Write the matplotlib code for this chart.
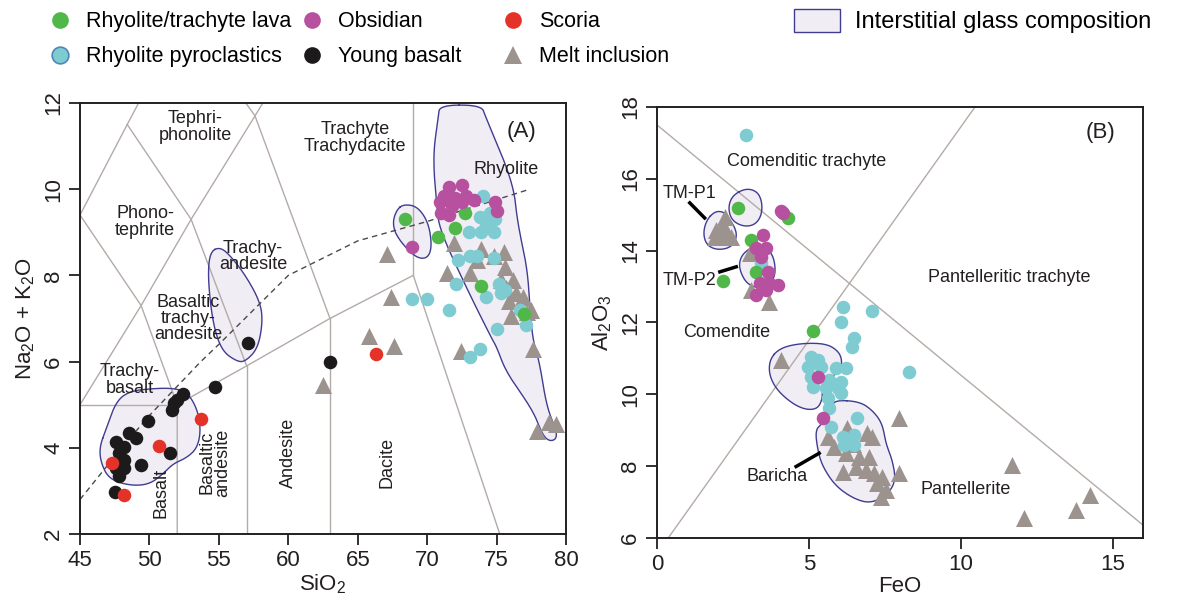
import numpy as np
import matplotlib
matplotlib.use('Agg')
import matplotlib.pyplot as plt
from matplotlib.lines import Line2D
from matplotlib.patches import Patch

plt.rcParams['font.family'] = ['Liberation Sans', 'DejaVu Sans']
plt.rcParams['mathtext.fontset'] = 'custom'
plt.rcParams['mathtext.rm'] = 'Liberation Sans'
plt.rcParams['mathtext.it'] = 'Liberation Sans:italic'

GREEN = '#4fb848'
CYAN = '#7ecbd1'
MAGENTA = '#b6509f'
BLACK = '#1c1a1a'
RED = '#e53228'
GREY = '#9c938e'
LINE = '#b3aba7'
BLOB_EDGE = '#3f3c91'
BLOB_FACE = '#f1edf5'
TXT = '#231f20'

# ---------------- panel A : TAS (SiO2 vs Na2O+K2O) ----------------
a_green_x = [68.4, 70.8, 72.0, 72.7, 73.9, 77.0]
a_green_y = [9.3, 8.9, 9.1, 9.45, 7.75, 7.1]

a_cyan_x = [74.0, 73.8, 74.5, 74.2, 74.9, 74.8, 73.9, 73.0, 73.1, 72.2, 73.6, 74.8, 72.1,
            75.2, 75.3, 75.6, 74.2, 68.9, 70.0, 71.6, 76.7, 75.0, 73.8, 73.1, 77.1]
a_cyan_y = [9.85, 9.35, 9.45, 9.2, 9.3, 9.0, 9.0, 9.0, 8.45, 8.35, 8.45, 8.4, 7.8,
            7.8, 7.6, 7.65, 7.5, 7.45, 7.45, 7.2, 7.2, 6.75, 6.3, 6.1, 6.85]

a_obs_x = [71.6, 72.5, 71.2, 72.0, 72.8, 73.4, 70.9, 71.8, 72.5, 71.0, 71.6, 74.9, 75.0, 68.9]
a_obs_y = [10.05, 10.1, 9.85, 9.8, 9.85, 9.75, 9.7, 9.6, 9.7, 9.45, 9.4, 9.7, 9.5, 8.65]

a_basalt_x = [52.4, 52.0, 51.6, 51.8, 49.9, 48.5, 49.0, 47.6, 48.2, 47.8, 51.5, 48.2,
              49.4, 47.6, 48.2, 47.8, 47.5, 54.7, 57.1, 63.0]
a_basalt_y = [5.25, 5.1, 4.88, 5.04, 4.62, 4.34, 4.23, 4.13, 4.02, 3.88, 3.88, 3.72,
              3.6, 3.53, 3.53, 3.35, 2.97, 5.41, 6.43, 6.0]

a_scoria_x = [53.7, 50.7, 47.3, 48.2, 66.3]
a_scoria_y = [4.67, 4.04, 3.65, 2.9, 6.18]

a_melt_x = [62.5, 65.8, 67.6, 67.1, 67.4, 71.4, 71.9, 72.4, 73.1, 73.6, 73.9, 74.8, 75.5,
            75.3, 75.7, 75.9, 76.2, 76.4, 76.7, 76.9, 77.2, 77.5, 77.6, 75.6, 76.0,
            77.9, 78.8, 79.3]
a_melt_y = [5.45, 6.6, 6.35, 8.5, 7.5, 8.05, 8.75, 6.25, 8.05, 8.35, 8.6, 8.45, 8.55,
            7.9, 7.7, 7.4, 7.9, 7.6, 7.3, 7.5, 7.15, 7.2, 6.3, 8.2, 7.05,
            4.4, 4.6, 4.55]

# interstitial glass fields (outline vertices)
a_glass = [
    [(70.9, 11.95), (73.9, 11.95), (74.2, 11.68), (76.2, 10.15), (76.5, 9.22), (77.2, 8.19),
     (77.4, 7.27), (77.6, 6.5), (78.1, 5.97), (78.6, 4.95), (79.3, 4.41), (79.3, 4.2),
     (78.8, 4.15), (78.3, 4.3), (77.6, 4.88), (75.7, 5.74), (75.0, 6.34), (74.7, 6.5),
     (72.9, 7.66), (70.9, 9.05), (70.7, 9.59), (70.4, 10.75), (70.8, 11.67)],
    [(67.8, 9.52), (68.3, 9.65), (69.3, 9.6), (70.1, 9.22), (70.35, 8.66), (70.0, 8.38),
     (69.1, 8.42), (67.8, 8.89), (67.5, 9.22)],
    [(54.36, 8.55), (55.1, 8.66), (55.9, 8.43), (57.0, 7.96), (58.0, 7.36), (58.15, 6.9),
     (57.8, 6.3), (56.9, 6.0), (56.3, 6.0), (55.2, 6.25), (54.55, 6.9), (54.2, 7.96)],
    [(46.4, 4.02), (46.9, 4.45), (47.6, 5.08), (48.6, 5.32), (50.5, 5.38), (51.7, 5.38),
     (52.7, 5.3), (53.45, 4.9), (53.7, 4.41), (53.45, 4.0), (52.7, 3.77), (51.7, 3.63),
     (51.0, 3.4), (50.0, 3.15), (48.6, 3.12), (47.1, 3.27), (46.5, 3.65)],
]

tas_lines = [
    [(45, 5), (52, 5)],
    [(52, 2), (52, 5), (57, 5.9), (63, 7), (69, 8)],
    [(57, 2), (57, 5.9)],
    [(63, 2), (63, 7)],
    [(69, 8), (69, 12)],
    [(69, 8), (77.3, 0)],
    [(45, 5), (49.4, 7.3), (52, 5)],
    [(45, 9.4), (49.4, 7.3), (53, 9.3), (57, 5.9)],
    [(45, 9.4), (48.4, 11.5), (53, 9.3), (57.6, 11.7), (63, 7)],
    [(48.4, 11.5), (52.5, 14)],
    [(52.5, 14), (57.6, 11.7), (61, 13.5)],
]
alk_x = [45, 48, 50, 53.7, 55, 60, 65, 70, 77.4]
alk_y = [2.8, 4.0, 4.75, 6.0, 6.4, 8.0, 8.8, 9.25, 10.0]

tas_labels = [
    ('Tephri-\nphonolite', 53.3, 11.44, 0),
    ('Phono-\ntephrite', 49.7, 9.24, 0),
    ('Trachy-\nandesite', 57.45, 8.43, 0),
    ('Basaltic\ntrachy-\nandesite', 52.8, 7.0, 0),
    ('Trachy-\nbasalt', 48.6, 5.57, 0),
    ('Basalt', 50.8, 2.95, 90),
    ('Basaltic\nandesite', 54.7, 3.65, 90),
    ('Andesite', 60.0, 3.88, 90),
    ('Dacite', 67.1, 3.65, 90),
    ('Trachyte\nTrachydacite', 64.8, 11.19, 0),
    ('Rhyolite', 75.7, 10.45, 0),
]

# ---------------- panel B : FeO vs Al2O3 ----------------
b_green_x = [2.67, 3.1, 3.27, 2.17, 4.3, 5.13]
b_green_y = [15.2, 14.3, 13.4, 13.15, 14.9, 11.75]

b_cyan_x = [2.94, 3.43, 6.11, 7.09, 6.06, 6.49, 6.42, 8.3, 5.07, 5.29, 4.96, 5.4, 5.89,
            6.22, 5.07, 5.67, 6.06, 5.13, 5.56, 5.95, 5.62, 5.67, 6.06, 5.73, 6.6,
            6.11, 6.33, 6.16, 6.49, 6.49]
b_cyan_y = [17.22, 13.65, 12.42, 12.33, 12.0, 11.56, 11.33, 10.63, 11.05, 10.96, 10.77,
            10.77, 10.72, 10.72, 10.49, 10.4, 10.35, 10.21, 10.17, 10.17, 9.89, 9.61,
            10.03, 9.1, 9.33, 8.82, 8.68, 8.59, 8.87, 8.59]

b_obs_x = [4.14, 4.09, 3.49, 3.27, 3.6, 3.43, 3.65, 3.38, 3.7, 3.98, 3.27, 3.6, 5.29, 5.45]
b_obs_y = [15.06, 15.1, 14.44, 14.07, 14.07, 13.83, 13.41, 13.09, 13.09, 13.04, 12.77,
           12.91, 10.48, 9.33]

b_melt_x = [2.23, 1.96, 2.29, 1.9, 2.12, 2.45, 2.17, 3.05, 3.1, 3.7, 4.09, 5.62, 6.27,
            6.93, 7.09, 5.84, 6.22, 6.66, 6.98, 6.11, 6.55, 6.88, 7.15, 7.42, 7.26,
            7.53, 7.37, 7.97, 7.97, 6.44, 11.68, 12.07, 13.81, 14.25]
b_melt_y = [14.95, 14.58, 14.48, 14.39, 14.39, 14.39, 14.71, 13.93, 12.91, 12.58, 10.96,
            8.82, 9.06, 8.92, 8.82, 8.54, 8.36, 8.26, 8.26, 7.85, 7.99, 7.89, 7.8,
            7.71, 7.52, 7.34, 7.15, 7.8, 9.33, 8.61, 8.03, 6.55, 6.78, 7.2]

b_glass = [
    [(1.63, 14.85), (1.9, 15.09), (2.17, 15.09), (2.34, 14.95), (2.61, 14.58), (2.61, 14.3),
     (2.39, 14.07), (1.96, 14.02), (1.63, 14.16), (1.52, 14.48)],
    [(2.5, 15.55), (2.94, 15.74), (3.32, 15.64), (3.47, 15.32), (3.43, 14.95), (3.21, 14.71),
     (2.83, 14.67), (2.45, 14.85), (2.34, 15.22)],
    [(2.89, 13.97), (3.27, 14.16), (3.7, 14.02), (3.87, 13.74), (3.9, 13.32), (3.7, 13.04),
     (3.32, 12.95), (2.94, 13.09), (2.72, 13.46), (2.72, 13.74)],
    [(3.7, 10.96), (4.03, 11.28), (4.69, 11.42), (5.56, 11.42), (6.0, 11.19), (6.11, 10.86),
     (5.94, 10.59), (5.45, 10.31), (5.45, 9.84), (5.24, 9.56), (4.69, 9.61), (4.03, 10.03),
     (3.7, 10.49)],
    [(5.89, 9.84), (6.66, 9.8), (7.09, 9.56), (7.42, 9.19), (7.53, 8.64), (7.75, 8.17),
     (7.86, 7.62), (7.64, 7.25), (7.09, 6.97), (6.55, 7.06), (5.89, 7.43), (5.45, 7.99),
     (5.29, 8.45), (5.21, 9.01), (5.45, 9.19), (5.73, 9.66)],
]

b_lines = [
    [(0, 17.5), (16, 6.36)],
    [(0.37, 6.0), (10.47, 18.0)],
]

b_labels = [
    ('Comenditic trachyte', 4.93, 16.48),
    ('Comendite', 2.31, 11.71),
    ('Pantelleritic trachyte', 11.6, 13.24),
    ('Pantellerite', 10.15, 7.34),
]
b_names = [
    ('TM-P1', 1.08, 15.6, (1.08, 15.33), (1.57, 14.91)),
    ('TM-P2', 1.08, 13.18, (2.07, 13.41), (2.61, 13.55)),
    ('Baricha', 3.97, 7.7, (4.58, 7.99), (5.34, 8.36)),
]


def smooth(pts, n=4):
    p = np.asarray(pts, float)
    for _ in range(n):
        q = np.roll(p, -1, axis=0)
        new = np.empty((2 * len(p), 2))
        new[0::2] = 0.75 * p + 0.25 * q
        new[1::2] = 0.25 * p + 0.75 * q
        p = new
    return np.vstack([p, p[:1]])


def draw_glass(ax, fields):
    for f in fields:
        s = smooth(f)
        ax.fill(s[:, 0], s[:, 1], facecolor=BLOB_FACE, edgecolor='none', zorder=1)
        ax.plot(s[:, 0], s[:, 1], color=BLOB_EDGE, lw=1.0, zorder=2.5)


def draw_points(ax, melt, cyan, green, obs, basalt=None, scoria=None):
    ax.scatter(*melt, marker='^', s=150, color=GREY, lw=0, zorder=3)
    ax.scatter(*cyan, s=95, color=CYAN, lw=0, zorder=4)
    ax.scatter(*green, s=95, color=GREEN, lw=0, zorder=5)
    ax.scatter(*obs, s=95, color=MAGENTA, lw=0, zorder=6)
    if basalt is not None:
        ax.scatter(*basalt, s=95, color=BLACK, lw=0, zorder=7)
    if scoria is not None:
        ax.scatter(*scoria, s=95, color=RED, lw=0, zorder=8)


def style(ax):
    for sp in ax.spines.values():
        sp.set_linewidth(1.4)
        sp.set_color(TXT)
    ax.tick_params(direction='out', length=8, width=1.3, labelsize=16, colors=TXT)
    ax.tick_params(axis='y', labelrotation=90)
    for lab in ax.get_yticklabels():
        lab.set_va('center')


fig = plt.figure(figsize=(11.82, 6.02), dpi=100)
ax_a = fig.add_axes([0.0677, 0.113, 0.4112, 0.716])
ax_b = fig.add_axes([0.5558, 0.1063, 0.4112, 0.716])

# panel A
draw_glass(ax_a, a_glass)
for seg in tas_lines:
    xs, ys = zip(*seg)
    ax_a.plot(xs, ys, color=LINE, lw=1.0, zorder=2)
ax_a.plot(alk_x, alk_y, color='#4a4a4a', lw=1.0, ls=(0, (4, 3)), zorder=2)
draw_points(ax_a, (a_melt_x, a_melt_y), (a_cyan_x, a_cyan_y), (a_green_x, a_green_y),
            (a_obs_x, a_obs_y), (a_basalt_x, a_basalt_y), (a_scoria_x, a_scoria_y))
for txt, x, y, rot in tas_labels:
    ax_a.text(x, y, txt, rotation=rot, ha='center', va='center', fontsize=13,
              color=TXT, linespacing=0.95, zorder=9)
ax_a.text(76.8, 11.33, '(A)', ha='center', va='center', fontsize=16, color=TXT)
ax_a.set_xlim(45, 80)
ax_a.set_ylim(2, 12)
ax_a.set_xticks(range(45, 81, 5))
ax_a.set_yticks(range(2, 13, 2))
ax_a.set_xlabel(r'SiO$_2$', fontsize=16, color=TXT, labelpad=1)
ax_a.set_ylabel(r'Na$_2$O + K$_2$O', fontsize=16, color=TXT, labelpad=4)
style(ax_a)

# panel B
draw_glass(ax_b, b_glass)
for seg in b_lines:
    xs, ys = zip(*seg)
    ax_b.plot(xs, ys, color=LINE, lw=1.0, zorder=2)
draw_points(ax_b, (b_melt_x, b_melt_y), (b_cyan_x, b_cyan_y), (b_green_x, b_green_y),
            (b_obs_x, b_obs_y))
for txt, x, y in b_labels:
    ax_b.text(x, y, txt, ha='center', va='center', fontsize=13, color=TXT, zorder=9)
for txt, x, y, p0, p1 in b_names:
    ax_b.text(x, y, txt, ha='center', va='center', fontsize=13, color=TXT, zorder=9)
    ax_b.plot([p0[0], p1[0]], [p0[1], p1[1]], color='black', lw=2.5, zorder=9)
ax_b.text(14.59, 17.28, '(B)', ha='center', va='center', fontsize=16, color=TXT)
ax_b.set_xlim(0, 16)
ax_b.set_ylim(6, 18)
ax_b.set_xticks([0, 5, 10, 15])
ax_b.set_yticks(range(6, 19, 2))
ax_b.set_xlabel('FeO', fontsize=16, color=TXT, labelpad=1)
ax_b.set_ylabel(r'Al$_2$O$_3$', fontsize=16, color=TXT, labelpad=4)
style(ax_b)


# legend: one small legend per column so each column sits where it does in the figure
def mk(marker, color, label, size=12, edge='none'):
    return Line2D([], [], ls='none', marker=marker, markersize=size, markerfacecolor=color,
                  markeredgecolor=edge, markeredgewidth=1.2, label=label)


legend_cols = [
    (0.042, [mk('o', GREEN, 'Rhyolite/trachyte lava'),
             mk('o', CYAN, 'Rhyolite pyroclastics', edge='#4f86b8')]),
    (0.255, [mk('o', MAGENTA, 'Obsidian'),
             mk('o', BLACK, 'Young basalt')]),
    (0.425, [mk('o', RED, 'Scoria'),
             mk('^', GREY, 'Melt inclusion', size=13)]),
]
for x0, hs in legend_cols:
    fig.legend(handles=hs, loc='upper left', bbox_to_anchor=(x0, 0.981), frameon=False,
               fontsize=15.5, handlelength=1.0, handletextpad=0.7, labelspacing=0.65,
               borderpad=0, borderaxespad=0)
fig.legend(handles=[Patch(facecolor=BLOB_FACE, edgecolor=BLOB_EDGE, lw=1.0)],
           labels=['Interstitial glass composition'], loc='upper left',
           bbox_to_anchor=(0.672, 0.985), frameon=False, fontsize=17,
           handlelength=1.95, handleheight=1.1, handletextpad=0.62, borderpad=0,
           borderaxespad=0)

fig.savefig('out.png', dpi=100)
